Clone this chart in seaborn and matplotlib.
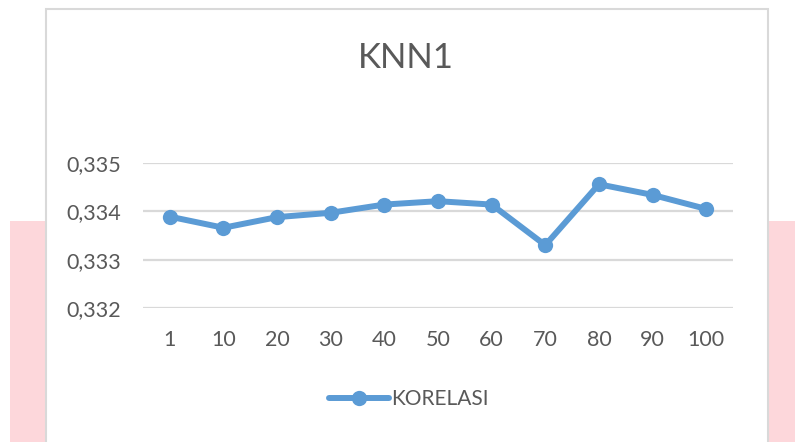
import matplotlib
matplotlib.use("Agg")
import matplotlib.pyplot as plt
from matplotlib.patches import Rectangle
from matplotlib.lines import Line2D
import seaborn as sns
import pandas as pd

# ---- data ----
categories = ["1", "10", "20", "30", "40", "50", "60", "70", "80", "90", "100"]
korelasi = [0.33389, 0.33366, 0.33388, 0.33397, 0.33414, 0.33421,
            0.33414, 0.33330, 0.33456, 0.33434, 0.33405]
y_ticks = [0.332, 0.333, 0.334, 0.335]
y_tick_labels = ["0,332", "0,333", "0,334", "0,335"]
title = "KNN1"
series_name = "KORELASI"

df = pd.DataFrame({"k": categories, "val": korelasi})

sns.set_theme(style="white")
plt.rcParams["font.family"] = ["Lato", "DejaVu Sans"]

W, H = 795, 442
fig = plt.figure(figsize=(W / 100, H / 100), dpi=100)
fig.patch.set_facecolor("white")

# background decoration (pink bands + chart border)
pink = "#fdd7db"
fig.patches.append(Rectangle((10 / W, 0), 35 / W, (H - 221) / H,
                             transform=fig.transFigure, facecolor=pink,
                             edgecolor="none", zorder=0))
fig.patches.append(Rectangle((768 / W, 0), 27 / W, (H - 221) / H,
                             transform=fig.transFigure, facecolor=pink,
                             edgecolor="none", zorder=0))
fig.patches.append(Rectangle((46 / W, -0.05), 722 / W, (H - 9) / H + 0.05,
                             transform=fig.transFigure, facecolor="white",
                             edgecolor="#d9d9d9", linewidth=1.5, zorder=1))

ax_left, ax_right = 143, 733
ax_top, ax_bottom = 163, 308
ax = fig.add_axes([ax_left / W, 1 - ax_bottom / H,
                   (ax_right - ax_left) / W, (ax_bottom - ax_top) / H])
ax.set_facecolor("none")
ax.set_zorder(2)

blue = "#5b9bd5"
sns.lineplot(data=df, x="k", y="val", ax=ax, color=blue, linewidth=4.3,
             marker="o", markersize=11, markeredgewidth=0, sort=False,
             legend=False, zorder=3)

ax.set_xlim(-0.5, len(categories) - 0.5)
ax.set_ylim(y_ticks[0], y_ticks[-1])
ax.set_yticks(y_ticks)
ax.set_yticklabels(y_tick_labels)
ax.set_xticks(range(len(categories)))
ax.set_xticklabels(categories)
ax.grid(axis="y", color="#d9d9d9", linewidth=1.6)
ax.set_axisbelow(True)
for s in ax.spines.values():
    s.set_visible(False)
ax.tick_params(axis="both", length=0, labelsize=15.5, labelcolor="#595959")
ax.tick_params(axis="y", pad=16)
ax.tick_params(axis="x", pad=16)
ax.set_xlabel("")
ax.set_ylabel("")

fig.text(406 / W, 1 - 58 / H, title, ha="center", va="center",
         fontsize=25, color="#595959")

handle = Line2D([], [], color=blue, linewidth=4.3, marker="o",
                markersize=11, markeredgewidth=0)
fig.legend([handle], [series_name], loc="center",
           bbox_to_anchor=(409 / W, 1 - 399 / H), frameon=False,
           fontsize=15, labelcolor="#595959", handlelength=2.9,
           handletextpad=0.1)

fig.savefig("out.png", dpi=100, facecolor="white")
